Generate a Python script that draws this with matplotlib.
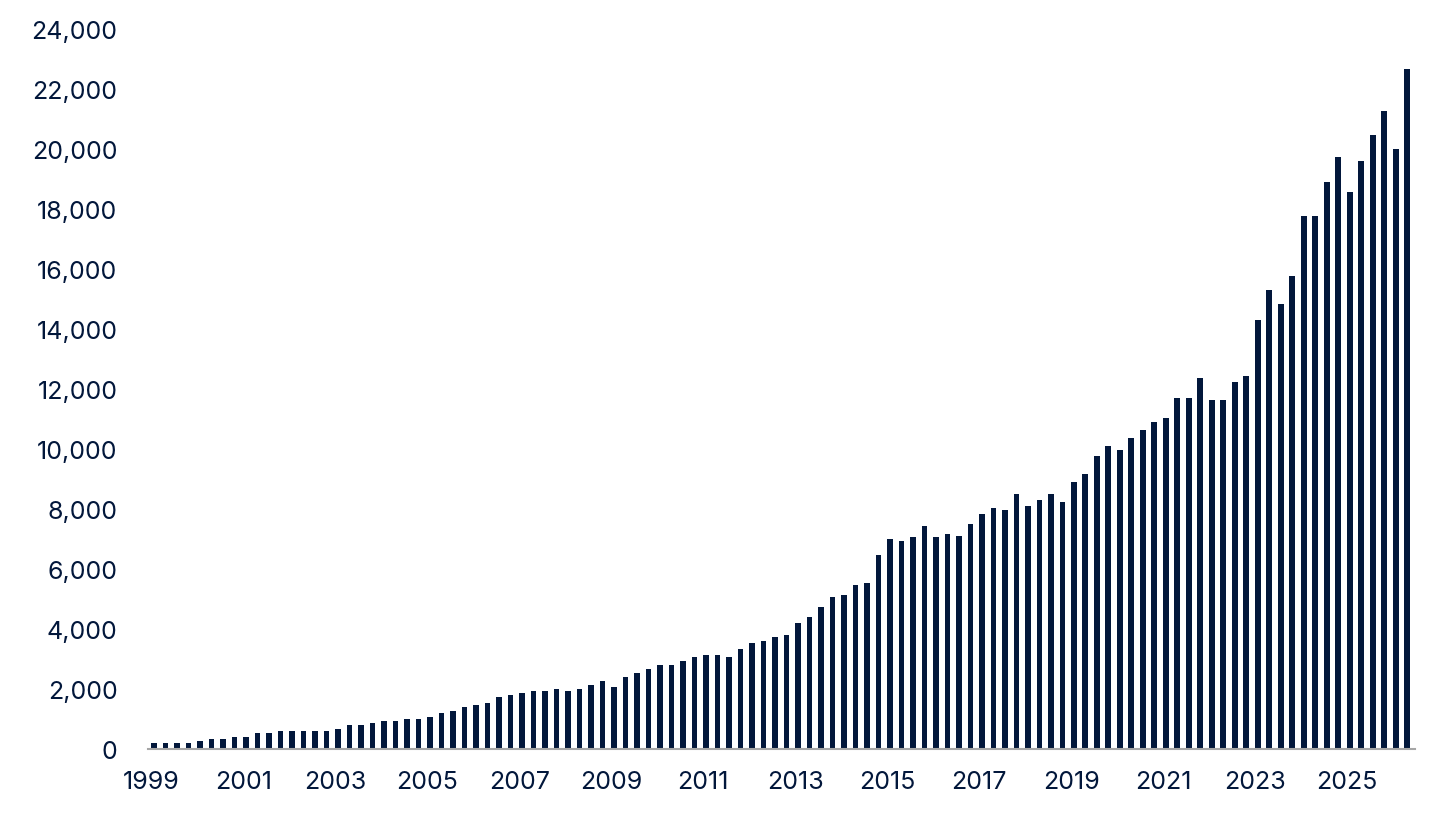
import matplotlib
matplotlib.use("Agg")
import matplotlib.pyplot as plt
from matplotlib.ticker import FuncFormatter

# Quarterly values, 1999 Q1 .. 2026 Q2
values = [
    200, 200, 200, 200,          # 1999
    270, 330, 330, 400,          # 2000
    400, 530, 530, 600,          # 2001
    600, 600, 600, 600,          # 2002
    670, 800, 800, 870,          # 2003
    930, 930, 1000, 1000,        # 2004
    1070, 1200, 1270, 1400,      # 2005
    1470, 1530, 1730, 1800,      # 2006
    1870, 1930, 1930, 2000,      # 2007
    1930, 2000, 2130, 2270,      # 2008
    2070, 2400, 2530, 2670,      # 2009
    2800, 2800, 2930, 3070,      # 2010
    3130, 3130, 3070, 3330,      # 2011
    3530, 3600, 3730, 3800,      # 2012
    4200, 4400, 4730, 5070,      # 2013
    5130, 5470, 5530, 6470,      # 2014
    7000, 6930, 7070, 7430,      # 2015
    7070, 7170, 7100, 7500,      # 2016
    7830, 8040, 7970, 8500,      # 2017
    8100, 8300, 8500, 8230,      # 2018
    8900, 9170, 9770, 10100,     # 2019
    9970, 10370, 10630, 10900,   # 2020
    11040, 11700, 11700, 12370,  # 2021
    11630, 11630, 12230, 12430,  # 2022
    14300, 15300, 14830, 15770,  # 2023
    17770, 17770, 18900, 19730,  # 2024
    18570, 19600, 20470, 21270,  # 2025
    20000, 22670,                # 2026
]
start_year = 1999
tick_years = [1999, 2001, 2003, 2005, 2007, 2009, 2011, 2013, 2015, 2017,
              2019, 2021, 2023, 2025]
y_ticks = [0, 2000, 4000, 6000, 8000, 10000, 12000, 14000, 16000, 18000,
           20000, 22000, 24000]

navy = "#02173b"

plt.rcParams['font.family'] = ['Inter', 'DejaVu Sans']

fig = plt.figure(figsize=(14.45, 8.28), dpi=100)
ax = fig.add_axes([0.1025, 0.094, 0.8765, 0.870])

xpos = [start_year + i / 4 for i in range(len(values))]
ax.bar(xpos, values, width=0.125, color=navy, zorder=2)

ax.set_xlim(start_year - 0.13, start_year + 27.41)
ax.set_ylim(0, 24000)
ax.set_yticks(y_ticks)
ax.yaxis.set_major_formatter(FuncFormatter(lambda v, p: f"{int(v):,}"))
ax.set_xticks([y - 0.06 for y in tick_years])
ax.set_xticklabels([str(y) for y in tick_years])

for s in ["top", "right", "left"]:
    ax.spines[s].set_visible(False)
ax.spines["bottom"].set_color("#a6a6a6")
ax.spines["bottom"].set_linewidth(1.5)
ax.tick_params(axis="both", length=0, labelsize=18, labelcolor=navy)
ax.tick_params(axis="y", pad=22)
ax.tick_params(axis="x", pad=15)

fig.savefig("out.png", dpi=100, facecolor="white")
